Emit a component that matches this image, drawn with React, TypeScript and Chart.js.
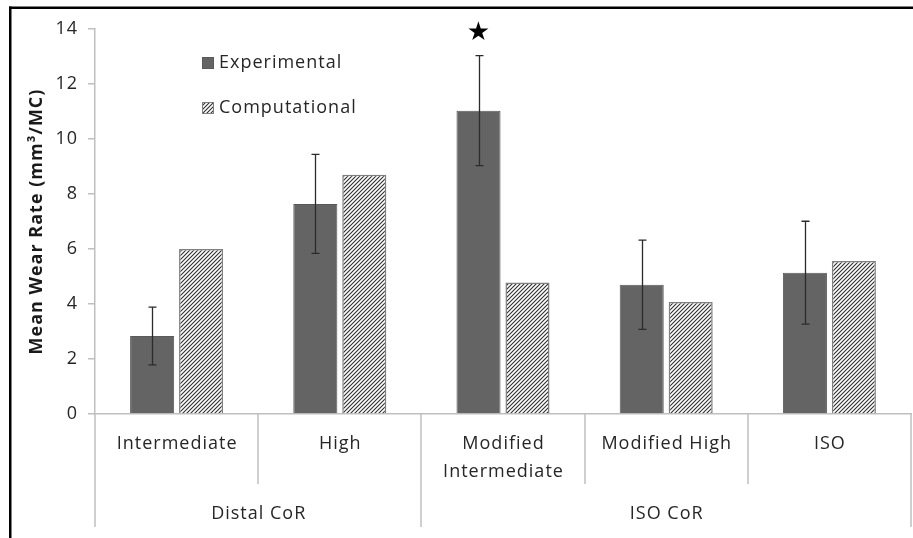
import React, { useEffect, useRef } from 'react';
import { Chart, registerables } from 'chart.js';
Chart.register(...registerables);

const categoryLines: string[][] = [
  ['Intermediate'],
  ['High'],
  ['Modified', 'Intermediate'],
  ['Modified High'],
  ['ISO'],
];
const groupLabels: string[] = ['Distal CoR', 'ISO CoR'];
const groupSpans: number[] = [2, 3];
const seriesNames: string[] = ['Experimental', 'Computational'];
const experimental: number[] = [2.84, 7.64, 11.03, 4.70, 5.14];
const experimentalErr: number[] = [1.05, 1.80, 2.0, 1.62, 1.87];
const computational: number[] = [6.0, 8.70, 4.78, 4.07, 5.56];
const starredIndices: number[] = [2];
const yTicks: number[] = [0, 2, 4, 6, 8, 10, 12, 14];
const yTitle = 'Mean Wear Rate (mm³/MC)';

const FONT = '"Open Sans", "Liberation Sans", sans-serif';
const TEXT = '#262626';
const SEP = '#bfbfbf';

function makeHatch(ctx: CanvasRenderingContext2D): CanvasPattern | string {
  const s = 4;
  const c = document.createElement('canvas');
  c.width = s;
  c.height = s;
  const g = c.getContext('2d')!;
  g.fillStyle = '#ffffff';
  g.fillRect(0, 0, s, s);
  g.strokeStyle = '#2e2e2e';
  g.lineWidth = 1.1;
  g.beginPath();
  g.moveTo(0, s);
  g.lineTo(s, 0);
  g.moveTo(-1, 1);
  g.lineTo(1, -1);
  g.moveTo(s - 1, s + 1);
  g.lineTo(s + 1, s - 1);
  g.stroke();
  return ctx.createPattern(c, 'repeat') || '#999';
}

export default function App() {
  const ref = useRef<HTMLCanvasElement>(null);
  useEffect(() => {
    const canvas = ref.current!;
    const ctx = canvas.getContext('2d')!;
    const hatch = makeHatch(ctx);

    const decor = {
      id: 'decor',
      beforeDraw(chart: any) {
        const c = chart.ctx;
        c.save();
        c.fillStyle = '#fff';
        c.fillRect(0, 0, chart.width, chart.height);
        c.restore();
        (c as any).letterSpacing = '1px';
      },
      afterDatasetsDraw(chart: any) {
        const c = chart.ctx;
        const y = chart.scales.y;
        const meta = chart.getDatasetMeta(0);
        c.save();
        c.strokeStyle = '#2b2b2b';
        c.lineWidth = 1.3;
        experimental.forEach((v, i) => {
          const el = meta.data[i];
          const x = Math.round(el.x) + 0.5;
          const yt = y.getPixelForValue(v + experimentalErr[i]);
          const yb = y.getPixelForValue(v - experimentalErr[i]);
          c.beginPath();
          c.moveTo(x, yt);
          c.lineTo(x, yb);
          c.moveTo(x - 4, yt);
          c.lineTo(x + 4, yt);
          c.moveTo(x - 4, yb);
          c.lineTo(x + 4, yb);
          c.stroke();
        });
        c.fillStyle = '#000';
        (c as any).letterSpacing = '0px';
        c.font = `26px "DejaVu Sans", sans-serif`;
        c.textAlign = 'center';
        c.textBaseline = 'middle';
        starredIndices.forEach((i) => {
          const el = meta.data[i];
          const yt = y.getPixelForValue(experimental[i] + experimentalErr[i]);
          c.fillText('★', el.x, yt - 22);
        });
        c.restore();
      },
      afterDraw(chart: any) {
        const c = chart.ctx;
        const x = chart.scales.x;
        const area = chart.chartArea;
        const half = (x.getPixelForValue(1) - x.getPixelForValue(0)) / 2;
        const base = area.bottom;
        c.save();
        c.fillStyle = '#000';
        c.fillRect(9, 6.5, chart.width - 9, 2.5);
        c.fillRect(9, 6.5, 2.5, chart.height - 6.5);

        c.strokeStyle = SEP;
        c.lineWidth = 1.5;
        const groupStarts: number[] = [];
        let acc = 0;
        groupSpans.forEach((s) => { groupStarts.push(acc); acc += s; });
        for (let i = 0; i <= categoryLines.length; i++) {
          const px = Math.round(i < categoryLines.length ? x.getPixelForValue(i) - half : x.getPixelForValue(i - 1) + half);
          const isGroup = i === 0 || i === categoryLines.length || groupStarts.includes(i);
          c.beginPath();
          c.moveTo(px, base);
          c.lineTo(px, base + (isGroup ? 113 : 70));
          c.stroke();
        }
        (c as any).letterSpacing = '1px';
        c.fillStyle = TEXT;
        c.font = `18px ${FONT}`;
        c.textAlign = 'center';
        c.textBaseline = 'middle';
        categoryLines.forEach((lines, i) => {
          const px = x.getPixelForValue(i) + 0.5;
          lines.forEach((t, j) => c.fillText(t, px, base + 30 + j * 28));
        });
        groupSpans.forEach((s, g) => {
          const st = groupStarts[g];
          const left = x.getPixelForValue(st) - half;
          const right = x.getPixelForValue(st + s - 1) + half;
          c.fillText(groupLabels[g], (left + right) / 2 + 0.5, base + 100);
        });

        const lx = area.left + 107;
        const ly = area.top + 34;
        const fills = [chart.data.datasets[0].backgroundColor, chart.data.datasets[1].backgroundColor];
        const borders = [chart.data.datasets[0].borderColor, chart.data.datasets[1].borderColor];
        seriesNames.forEach((n, i) => {
          const yy = ly + i * 45;
          c.fillStyle = fills[i];
          c.fillRect(lx, yy - 6, 12, 12);
          c.strokeStyle = borders[i];
          c.lineWidth = 1;
          c.strokeRect(lx + 0.5, yy - 5.5, 11, 11);
          c.fillStyle = TEXT;
          c.textAlign = 'left';
          c.fillText(n, lx + 17, yy);
        });
        c.restore();
      },
    };

    const chart = new Chart(canvas, {
      type: 'bar',
      data: {
        labels: categoryLines.map((l) => l.join(' ')),
        datasets: [
          {
            label: seriesNames[0],
            data: experimental,
            backgroundColor: '#646464',
            borderColor: '#5a5a5a',
            borderWidth: 1,
            categoryPercentage: 0.6,
            barPercentage: 0.9,
          },
          {
            label: seriesNames[1],
            data: computational,
            backgroundColor: hatch as any,
            borderColor: '#808080',
            borderWidth: 1.5,
            categoryPercentage: 0.6,
            barPercentage: 0.9,
          },
        ],
      },
      options: {
        responsive: false,
        animation: false,
        devicePixelRatio: 1,
        layout: { padding: { left: 12, right: 2, top: 29, bottom: 0 } },
        plugins: { legend: { display: false }, tooltip: { enabled: false } },
        scales: {
          x: {
            grid: { display: false },
            ticks: { display: false },
            border: { display: true, color: SEP, width: 1.5 },
            afterFit: (s: any) => { s.height = 124; },
          },
          y: {
            min: 0,
            max: 14,
            afterBuildTicks: (s: any) => { s.ticks = yTicks.map((v) => ({ value: v })); },
            grid: { display: true, drawOnChartArea: false, drawTicks: true, tickLength: 7, color: SEP, lineWidth: 1.5 },
            border: { display: true, color: SEP, width: 1.5 },
            ticks: { color: TEXT, font: { family: FONT, size: 18 }, padding: 10 },
            title: {
              display: true,
              text: yTitle,
              color: '#1a1a1a',
              font: { family: FONT, size: 18, weight: 'bold' },
              padding: { top: 14, bottom: 0 },
            },
            afterFit: (s: any) => { s.width = 83; },
          },
        },
      },
      plugins: [decor],
    });
    return () => chart.destroy();
  }, []);
  return (
    <canvas
      ref={ref}
      width={913}
      height={538}
      style={{ position: 'absolute', left: 0, top: 0, width: 913, height: 538 }}
    />
  );
}
